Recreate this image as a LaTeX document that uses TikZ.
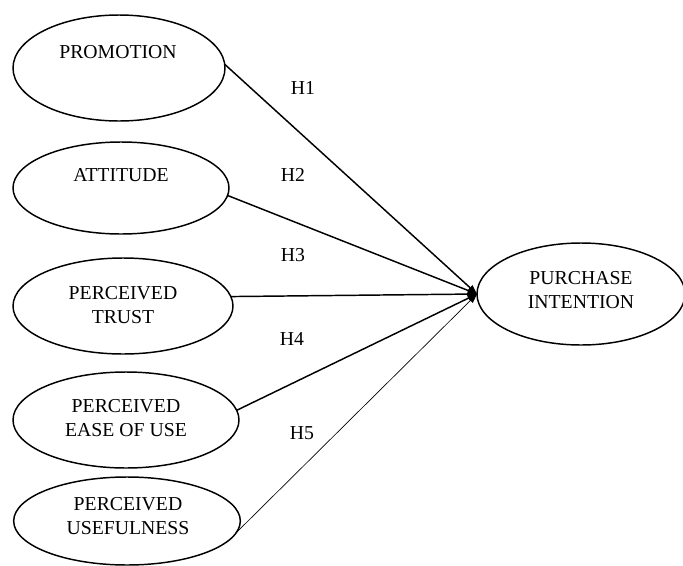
\documentclass[tikz,border=0pt]{standalone}
\usepackage{fontspec}
\setmainfont{Liberation Serif}
\usetikzlibrary{shapes.geometric,arrows.meta}
\begin{document}
\begin{tikzpicture}[x=0.75pt,y=-0.75pt,
  ell/.style={draw, ellipse, line width=1.1pt, inner sep=0pt, outer sep=0pt},
  lbl/.style={align=center, font=\fontsize{14.8}{18}\selectfont, inner sep=0pt},
  link/.style={line width=1.1pt, -{Triangle[length=7pt,width=5pt]}},
  thinlink/.style={line width=0.5pt, -{Triangle[length=7pt,width=5pt]}},
]
\useasboundingbox (0,0) rectangle (683,565);
\node[ell, minimum width=159pt, minimum height=79.5pt] (promo) at (119,68) {};
\node[ell, minimum width=162pt, minimum height=69pt] (att) at (121,188) {};
\node[ell, minimum width=165pt, minimum height=72pt] (trust) at (123,306) {};
\node[ell, minimum width=169.5pt, minimum height=72pt] (ease) at (126,420) {};
\node[ell, minimum width=170pt, minimum height=66pt] (useful) at (127,521) {};
\node[ell, minimum width=156pt, minimum height=76.5pt] (pi) at (581,294) {};

\node[lbl] (tpromo) at (118,52) {PROMOTION};
\node[lbl] (tatt) at (121,175) {ATTITUDE};
\node[lbl] (ttrust) at (123,305) {PERCEIVED\\TRUST};
\node[lbl] (tease) at (126,418) {PERCEIVED\\EASE OF USE};
\node[lbl] (tuseful) at (128,516) {PERCEIVED\\USEFULNESS};
\node[lbl] (tpi) at (581,290) {PURCHASE\\INTENTION};

\node[lbl] (h1) at (303,88) {H1};
\node[lbl] (h2) at (293,175) {H2};
\node[lbl] (h3) at (293,255) {H3};
\node[lbl] (h4) at (292,339) {H4};
\node[lbl] (h5) at (302,433) {H5};

\draw[link] (promo.2) -- (pi.west);
\draw[link] (att.-4) -- (pi.west);
\draw[link] (trust.5) -- (pi.west);
\draw[link] (ease.5) -- (pi.west);
\draw[thinlink] (useful.-6) -- (pi.west);
\end{tikzpicture}
\end{document}
